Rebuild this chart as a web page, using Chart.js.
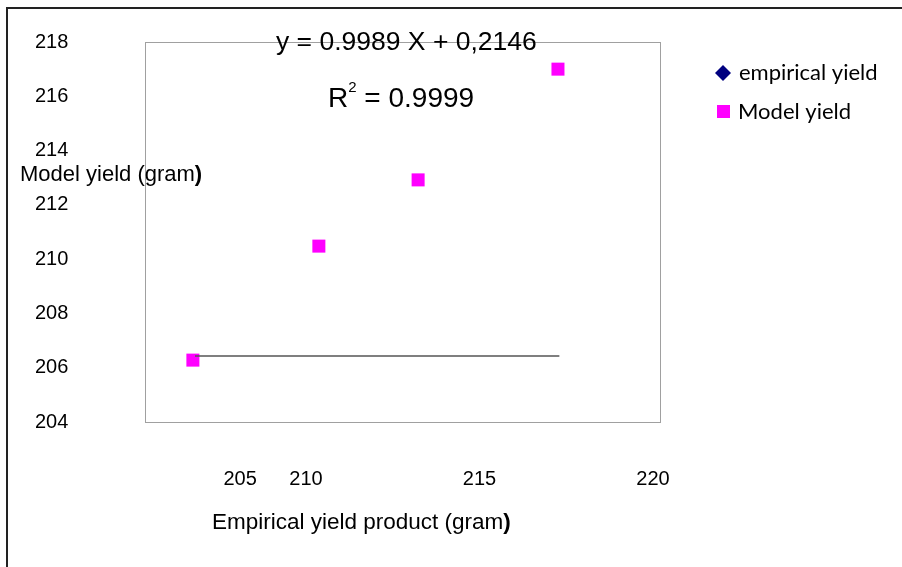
<!DOCTYPE html>
<html>
<head>
<meta charset="utf-8">
<script src="https://cdn.jsdelivr.net/npm/chart.js@4"></script>
<style>
  html, body { margin: 0; padding: 0; background: #fff; overflow: hidden; }
  #wrap { position: relative; width: 902px; height: 567px; }
</style>
</head>
<body>
<div id="wrap"><canvas id="chart" width="902" height="567"></canvas></div>
<script>
// data
const empiricalYield = [206.74, 210.37, 213.23, 217.26];
const modelYield = [206.28, 210.48, 212.92, 217.0];
const trendX = [206.8, 217.3];
const trendY = [206.43, 206.43];
const xTickValues = [208.1, 210, 215, 220];
const xTickLabels = ["205", "210", "215", "220"];
const equationText = "y = 0.9989 X + 0,2146";
const r2Text = "0.9999";

const font = "'Liberation Sans', Arial, sans-serif";
const legendFont = "Lato, 'Open Sans', sans-serif";

const decorations = {
    id: "decorations",
    beforeDraw(chart) {
        const { ctx, chartArea } = chart;
        ctx.save();
        // outer frame
        ctx.strokeStyle = "#222";
        ctx.lineWidth = 2;
        ctx.strokeRect(7, 8, 1000, 1000);
        // plot box
        ctx.strokeStyle = "#a0a0a0";
        ctx.lineWidth = 1;
        ctx.strokeRect(Math.round(chartArea.left) + 0.5, Math.round(chartArea.top) + 0.5,
            Math.round(chartArea.width), Math.round(chartArea.height));
        ctx.restore();
    },
    afterDraw(chart) {
        const { ctx } = chart;
        ctx.save();
        ctx.fillStyle = "#000";
        ctx.textBaseline = "middle";
        ctx.textAlign = "left";

        // equation + R2
        ctx.font = "26.5px " + font;
        ctx.fillText(equationText, 276, 43);
        ctx.font = "28px " + font;
        ctx.fillText("R", 328, 99);
        let w = ctx.measureText("R").width;
        ctx.font = "15px " + font;
        ctx.fillText("2", 328 + w, 88);
        w += ctx.measureText("2").width;
        ctx.font = "28px " + font;
        ctx.fillText(" = " + r2Text, 328 + w, 99);

        // axis titles
        ctx.font = "22px " + font;
        ctx.fillText("Model yield (gram", 20, 175);
        let tw = ctx.measureText("Model yield (gram").width;
        ctx.font = "bold 22px " + font;
        ctx.fillText(")", 20 + tw, 175);
        ctx.font = "22.5px " + font;
        ctx.fillText("Empirical yield product (gram", 212, 523);
        tw = ctx.measureText("Empirical yield product (gram").width;
        ctx.font = "bold 22.5px " + font;
        ctx.fillText(")", 212 + tw, 523);

        // legend
        ctx.font = "22px " + legendFont;
        ctx.fillStyle = "#000080";
        ctx.beginPath();
        ctx.moveTo(723, 65);
        ctx.lineTo(731, 73);
        ctx.lineTo(723, 81);
        ctx.lineTo(715, 73);
        ctx.closePath();
        ctx.fill();
        ctx.fillStyle = "#000";
        ctx.fillText("empirical yield", 739, 73);
        ctx.fillStyle = "#ff00ff";
        ctx.fillRect(717, 105, 13, 13);
        ctx.fillStyle = "#000";
        ctx.fillText("Model yield", 738, 112);
        ctx.restore();
    }
};

const points = empiricalYield.map((x, i) => ({ x: x, y: modelYield[i] }));
const trend = trendX.map((x, i) => ({ x: x, y: trendY[i] }));

new Chart(document.getElementById("chart"), {
    type: "scatter",
    data: {
        datasets: [
            {
                label: "Model yield",
                data: points,
                pointStyle: "rect",
                pointRadius: 9.2,
                backgroundColor: "#ff00ff",
                borderColor: "#ff00ff",
                borderWidth: 0,
                order: 1
            },
            {
                type: "line",
                label: "trend",
                data: trend,
                borderColor: "#555",
                borderWidth: 1.5,
                pointRadius: 0,
                fill: false,
                order: 0
            }
        ]
    },
    options: {
        responsive: false,
        animation: false,
        events: [],
        layout: { padding: { top: 42, right: 242, left: 35, bottom: 0 } },
        plugins: { legend: { display: false }, tooltip: { enabled: false } },
        scales: {
            x: {
                type: "linear",
                min: 205.36,
                max: 220.2,
                grid: { display: false, drawTicks: false },
                border: { display: false },
                afterBuildTicks(scale) {
                    scale.ticks = xTickValues.map(v => ({ value: v }));
                },
                afterFit(scale) { scale.height = 145; },
                ticks: {
                    autoSkip: false,
                    maxRotation: 0,
                    padding: 45,
                    color: "#000",
                    font: { family: font, size: 20 },
                    callback: (v, i) => xTickLabels[i]
                }
            },
            y: {
                min: 204,
                max: 218,
                grid: { display: false, drawTicks: false },
                border: { display: false },
                afterFit(scale) { scale.width = 110; },
                ticks: {
                    stepSize: 2,
                    padding: 0,
                    crossAlign: "far",
                    color: "#000",
                    font: { family: font, size: 20 }
                }
            }
        }
    },
    plugins: [decorations]
});
</script>
</body>
</html>
